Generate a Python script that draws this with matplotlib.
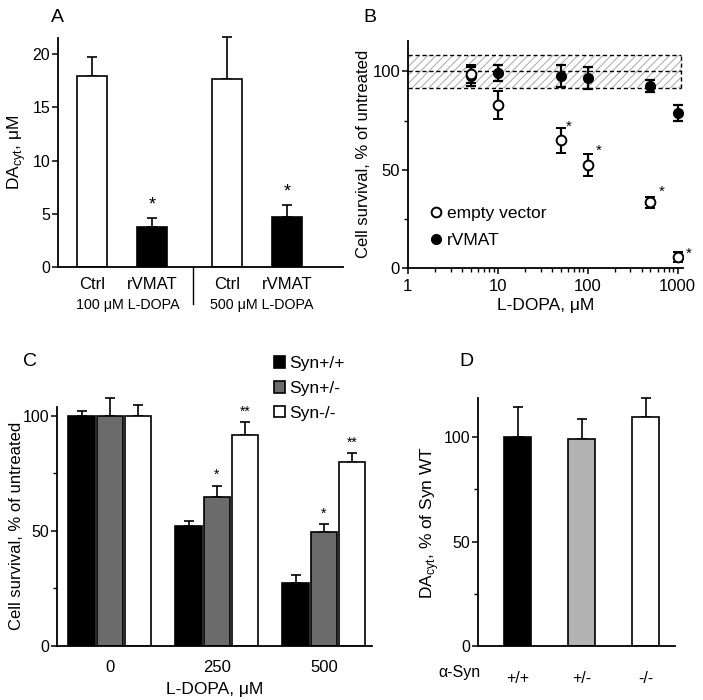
import matplotlib
matplotlib.use("Agg")
import matplotlib.pyplot as plt
from matplotlib.lines import Line2D
from matplotlib.patches import Rectangle
from matplotlib.ticker import FixedLocator, NullFormatter

plt.rcParams["font.family"] = ["Liberation Sans", "DejaVu Sans"]
plt.rcParams["mathtext.fontset"] = "custom"
plt.rcParams["mathtext.rm"] = "Liberation Sans"
plt.rcParams["axes.linewidth"] = 1.3
plt.rcParams["xtick.major.width"] = 1.1
plt.rcParams["ytick.major.width"] = 1.1
plt.rcParams["xtick.minor.width"] = 1.0
plt.rcParams["ytick.minor.width"] = 1.0
plt.rcParams["hatch.linewidth"] = 0.7

# ---- panel A data ----
a_labels = ["Ctrl", "rVMAT", "Ctrl", "rVMAT"]
a_values = [17.9, 3.8, 17.65, 4.7]
a_err = [1.85, 0.8, 3.95, 1.1]
a_groups = ["100 μM L-DOPA", "500 μM L-DOPA"]

# ---- panel B data ----
b_dopa_empty = [5, 10, 50, 100, 500, 1000]
b_empty = [98.6, 82.9, 65.0, 52.4, 33.4, 5.8]
b_empty_err = [4.5, 7.0, 6.5, 5.4, 2.6, 2.6]
b_dopa_vmat = [5, 10, 50, 100, 500, 1000]
b_vmat = [97.5, 99.3, 97.6, 96.8, 92.5, 79.0]
b_vmat_err = [5.0, 4.0, 5.5, 5.5, 3.0, 4.0]
b_band = (91.4, 108.6)

# ---- panel C data ----
c_dopa = ["0", "250", "500"]
c_wt = [100, 52.3, 27.5]
c_wt_err = [2.2, 2.0, 3.4]
c_het = [100, 64.6, 49.4]
c_het_err = [7.7, 5.1, 3.5]
c_ko = [100, 91.7, 79.9]
c_ko_err = [4.8, 5.6, 3.9]
c_names = ["Syn+/+", "Syn+/-", "Syn-/-"]

# ---- panel D data ----
d_labels = ["+/+", "+/-", "-/-"]
d_values = [100, 99.2, 109.7]
d_err = [14.5, 9.6, 9.1]

BLACK = "#000000"
DGRAY = "#6b6b6b"
LGRAY = "#b3b3b3"
WHITE = "#ffffff"


def clean(ax, size=11.5):
    ax.spines["top"].set_visible(False)
    ax.spines["right"].set_visible(False)
    ax.tick_params(labelsize=size, direction="out", length=4, pad=1.5)
    ax.tick_params(which="minor", direction="out", length=3)


def quarter_ticks(ax):
    ax.set_yticks([0, 50, 100])
    ax.yaxis.set_minor_locator(FixedLocator([25, 75]))
    ax.yaxis.set_minor_formatter(NullFormatter())


fig = plt.figure(figsize=(7.03, 7.0), dpi=100)

# ================= A =================
ax = fig.add_axes([0.0825, 0.6186, 0.405, 0.327])
xa = [0, 1, 2.25, 3.25]
ax.bar(xa, a_values, width=0.5, color=[WHITE, BLACK, WHITE, BLACK],
       edgecolor=BLACK, linewidth=1.2, zorder=2)
ax.errorbar(xa, a_values, yerr=[[0] * 4, a_err], fmt="none", ecolor=BLACK,
            elinewidth=1.2, capsize=3.5, capthick=1.2, zorder=1, clip_on=False)
for i in (1, 3):
    ax.text(xa[i], a_values[i] + a_err[i] + 0.4, "*", ha="center", va="bottom",
            fontsize=13)
ax.set_xlim(-0.567, 4.18)
ax.set_ylim(0, 21.5)
ax.set_yticks([0, 5, 10, 15, 20])
ax.set_xticks(xa)
ax.set_xticklabels(a_labels)
clean(ax, 11.5)
ax.tick_params(axis="x", length=0, pad=7, labelsize=12)
ax.plot([1.68, 1.68], [0, -0.16], transform=ax.get_xaxis_transform(),
        color=BLACK, lw=1.0, clip_on=False)
ax.text(0.59, -0.135, a_groups[0], transform=ax.get_xaxis_transform(),
        ha="center", va="top", fontsize=10.3)
ax.text(2.83, -0.135, a_groups[1], transform=ax.get_xaxis_transform(),
        ha="center", va="top", fontsize=10.3)
ax.set_ylabel("DA$_\\mathregular{cyt}$, μM", fontsize=12.5, labelpad=3)
fig.text(0.082, 0.975, "A", fontsize=14, ha="center", va="center")

# ================= B =================
ax = fig.add_axes([0.580, 0.617, 0.3915, 0.325])
ax.set_xscale("log")
ax.add_patch(Rectangle((1, b_band[0]), 1100 - 1, b_band[1] - b_band[0],
                       facecolor="none", edgecolor="#a8a8a8", hatch="////",
                       linewidth=0, zorder=0))
for yv in (b_band[0], b_band[1], 100):
    ax.plot([1, 1100], [yv, yv], ls=(0, (3, 2)), color=BLACK, lw=1.0)
ax.plot([1100, 1100], list(b_band), ls=(0, (3, 2)), color=BLACK, lw=1.0)
ax.errorbar(b_dopa_vmat, b_vmat, yerr=b_vmat_err, fmt="o", ms=7,
            mfc=BLACK, mec=BLACK, ecolor=BLACK, elinewidth=1.6, capsize=3.5,
            capthick=1.6, zorder=3)
ax.errorbar(b_dopa_empty, b_empty, yerr=b_empty_err, fmt="o", ms=7,
            mfc=WHITE, mec=BLACK, mew=1.4, ecolor=BLACK, elinewidth=1.6,
            capsize=3.5, capthick=1.6, zorder=4)
star_offsets = {2: (6, 10), 3: (8, 10), 4: (8, 8), 5: (8, 2)}
for i, off in star_offsets.items():
    ax.annotate("*", (b_dopa_empty[i], b_empty[i]), xytext=off,
                textcoords="offset points", ha="center", va="center",
                fontsize=11)
ax.set_xlim(1, 1150)
ax.set_ylim(0, 115.7)
ax.set_xticks([1, 10, 100, 1000])
ax.set_xticklabels(["1", "10", "100", "1000"])
quarter_ticks(ax)
clean(ax, 12)
ax.tick_params(axis="x", pad=4)
ax.set_xlabel("L-DOPA, μM", fontsize=12.5, labelpad=3)
ax.set_ylabel("Cell survival, % of untreated", fontsize=12, labelpad=1)
h_empty = Line2D([], [], ls="none", marker="o", ms=7, mfc=WHITE, mec=BLACK,
                 mew=1.4)
h_vmat = Line2D([], [], ls="none", marker="o", ms=7, mfc=BLACK, mec=BLACK)
ax.legend([h_empty, h_vmat], ["empty vector", "rVMAT"], loc="lower left",
          bbox_to_anchor=(0.072, 0.088), frameon=False, fontsize=12.5,
          handletextpad=0.14, labelspacing=0.7, handlelength=1.0,
          borderpad=0, borderaxespad=0)
fig.text(0.526, 0.975, "B", fontsize=14, ha="center", va="center")

# ================= C =================
ax = fig.add_axes([0.081, 0.0771, 0.448, 0.342])
xc = [0, 1, 2]
w = 0.245
ax.bar([x - 0.265 for x in xc], c_wt, width=w, color=BLACK, edgecolor=BLACK,
       linewidth=1.2, label=c_names[0], zorder=2)
ax.bar(xc, c_het, width=w, color=DGRAY, edgecolor=BLACK,
       linewidth=1.2, label=c_names[1], zorder=2)
ax.bar([x + 0.265 for x in xc], c_ko, width=w, color=WHITE, edgecolor=BLACK,
       linewidth=1.2, label=c_names[2], zorder=2)
for off, vals, errs in ((-0.265, c_wt, c_wt_err), (0, c_het, c_het_err),
                        (0.265, c_ko, c_ko_err)):
    ax.errorbar([x + off for x in xc], vals, yerr=[[0] * 3, errs], fmt="none",
                ecolor=BLACK, elinewidth=1.2, capsize=3.5, capthick=1.2,
                zorder=1, clip_on=False)
for i in (1, 2):
    ax.text(xc[i], c_het[i] + c_het_err[i] + 1.5, "*", ha="center",
            va="bottom", fontsize=10)
    ax.text(xc[i] + 0.265, c_ko[i] + c_ko_err[i] + 1.5, "**", ha="center",
            va="bottom", fontsize=10)
ax.set_xlim(-0.495, 2.449)
ax.set_ylim(0, 104)
ax.set_xticks(xc)
ax.set_xticklabels(c_dopa)
quarter_ticks(ax)
clean(ax, 11.5)
ax.tick_params(axis="x", length=0, pad=10, labelsize=12)
ax.set_xlabel("L-DOPA, μM", fontsize=12.5, labelpad=5)
ax.set_ylabel("Cell survival, % of untreated", fontsize=12, labelpad=-1)
ax.legend(loc="upper left", bbox_to_anchor=(0.689, 1.212), frameon=False,
          fontsize=12.5, handlelength=0.66, handleheight=0.66,
          handletextpad=0.2, labelspacing=0.57, borderpad=0,
          borderaxespad=0)
fig.text(0.043, 0.484, "C", fontsize=14, ha="center", va="center")

# ================= D =================
ax = fig.add_axes([0.680, 0.0771, 0.280, 0.354])
xd = [0, 1, 2]
ax.bar(xd, d_values, width=0.42, color=[BLACK, LGRAY, WHITE],
       edgecolor=BLACK, linewidth=1.2, zorder=2)
ax.errorbar(xd, d_values, yerr=[[0] * 3, d_err], fmt="none", ecolor=BLACK,
            elinewidth=1.2, capsize=3.5, capthick=1.2, zorder=1, clip_on=False)
ax.set_xlim(-0.615, 2.45)
ax.set_ylim(0, 118.7)
ax.set_xticks(xd)
ax.set_xticklabels(d_labels)
quarter_ticks(ax)
clean(ax, 11.5)
ax.tick_params(axis="x", length=0, pad=18, labelsize=11.5)
ax.text(0.01, -0.106, "α-Syn", transform=ax.transAxes, ha="right",
        va="center", fontsize=11.5)
ax.set_ylabel("DA$_\\mathregular{cyt}$, % of Syn WT", fontsize=12.5,
              labelpad=2)
fig.text(0.663, 0.484, "D", fontsize=14, ha="center", va="center")

fig.savefig("out.png", dpi=100)
